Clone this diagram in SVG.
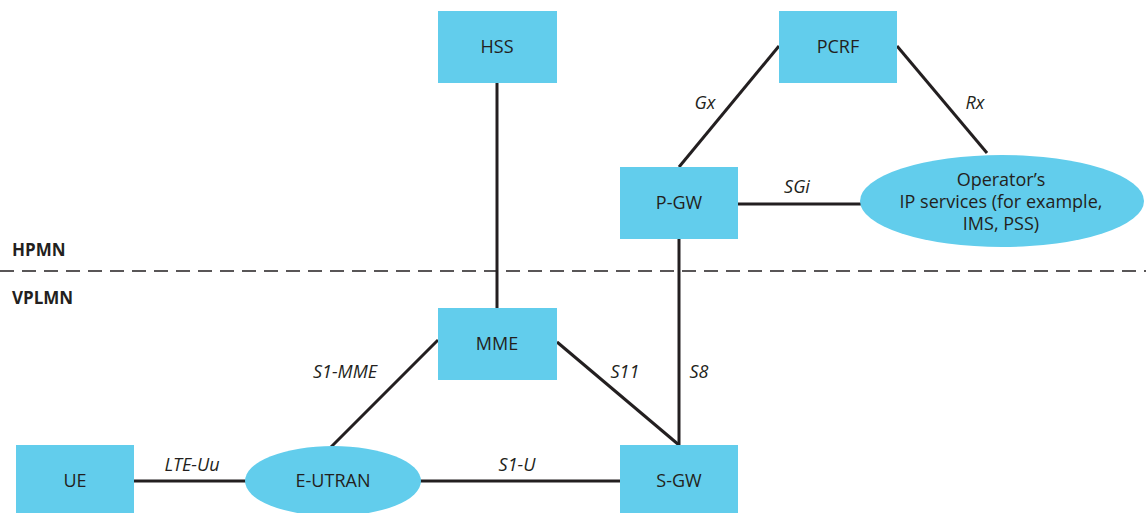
<svg xmlns="http://www.w3.org/2000/svg" width="1146" height="513" viewBox="0 0 1146 513">
<style>
.box{fill:#62cdec;}
.t{font-family:"Open Sans","Liberation Sans",sans-serif;font-size:18px;fill:#231f20;text-anchor:middle;}
.l{font-family:"Open Sans","Liberation Sans",sans-serif;font-size:18px;font-style:italic;fill:#231f20;text-anchor:middle;}
.h{font-family:"Open Sans","Liberation Sans",sans-serif;font-size:17px;font-weight:bold;fill:#231f20;}
.c{stroke:#231f20;stroke-width:3;fill:none;}
</style>
<rect width="1146" height="513" fill="#ffffff"/>
<g id="connectors">
<line class="c" x1="497" y1="83" x2="497" y2="308"/>
<line class="c" x1="779" y1="46" x2="679" y2="167"/>
<line class="c" x1="897" y1="46" x2="987" y2="153"/>
<line class="c" x1="738" y1="204" x2="862" y2="204"/>
<line class="c" x1="679" y1="239" x2="679" y2="445"/>
<line class="c" x1="557" y1="342" x2="679" y2="445"/>
<line class="c" x1="438" y1="340" x2="331" y2="447"/>
<line class="c" x1="134" y1="481" x2="246" y2="481"/>
<line class="c" x1="420" y1="481" x2="620" y2="481"/>
<line x1="0" y1="271" x2="1146" y2="271" stroke="#231f20" stroke-width="1.5" stroke-dasharray="14,8"/>
<text class="l" x="705" y="109">Gx</text>
<text class="l" x="975" y="109">Rx</text>
<text class="l" x="797" y="193">SGi</text>
<text class="l" x="345" y="378">S1-MME</text>
<text class="l" x="625" y="378">S11</text>
<text class="l" x="699" y="378">S8</text>
<text class="l" x="192" y="471">LTE-Uu</text>
<text class="l" x="517" y="471">S1-U</text>
</g>
<text class="h" x="12" y="256">HPMN</text>
<text class="h" x="12" y="304">VPLMN</text>
<g id="hss"><rect class="box" x="438" y="11" width="119" height="72"/><text class="t" x="497" y="53">HSS</text></g>
<g id="pcrf"><rect class="box" x="779" y="11" width="118" height="72"/><text class="t" x="838" y="53">PCRF</text></g>
<g id="pgw"><rect class="box" x="620" y="167" width="118" height="72"/><text class="t" x="679" y="209">P-GW</text></g>
<g id="operator"><ellipse class="box" cx="1002" cy="201" rx="142" ry="46"/><text class="t" x="1001" y="186">Operator’s</text><text class="t" x="1001" y="208">IP services (for example,</text><text class="t" x="1001" y="230">IMS, PSS)</text></g>
<g id="mme"><rect class="box" x="438" y="308" width="119" height="72"/><text class="t" x="497" y="350">MME</text></g>
<g id="ue"><rect class="box" x="16" y="445" width="118" height="72"/><text class="t" x="75" y="487">UE</text></g>
<g id="eutran"><ellipse class="box" cx="333" cy="481" rx="88" ry="35"/><text class="t" x="333" y="487">E-UTRAN</text></g>
<g id="sgw"><rect class="box" x="620" y="445" width="118" height="72"/><text class="t" x="679" y="487">S-GW</text></g>
</svg>
